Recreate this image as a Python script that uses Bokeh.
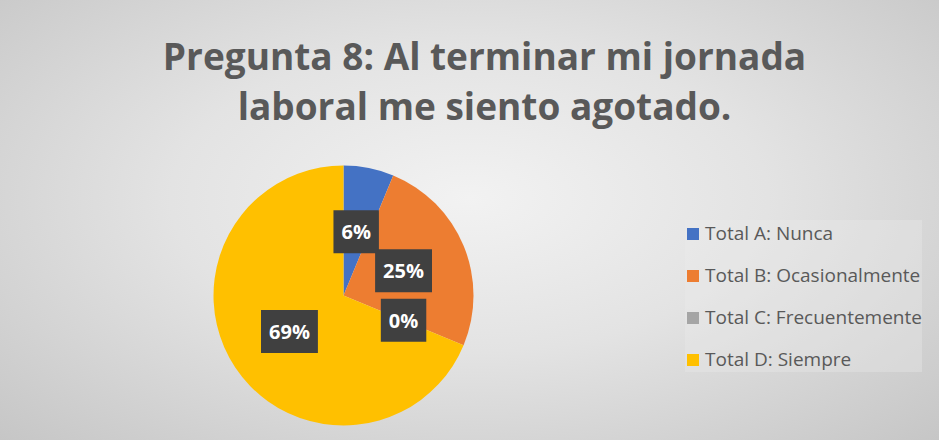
import numpy as np
from bokeh.plotting import figure
from bokeh.models import Range1d, ColumnDataSource, Legend, LegendItem
from bokeh.core.properties import value
from bokeh.embed import file_html
from bokeh.resources import INLINE

# ---- data ----
categories = ["Total A: Nunca", "Total B: Ocasionalmente", "Total C: Frecuentemente", "Total D: Siempre"]
counts = [1, 4, 0, 11]
colors = ["#4472C4", "#ED7D31", "#A5A5A5", "#FFC000"]
title_lines = ["Pregunta 8: Al terminar mi jornada", "laboral me siento agotado."]

# ---- layout (data units == screen pixels) ----
W, H = 939, 440
cx, cy, R = 343, 153, 130
FONT = "Open Sans"

vals = np.array(counts, dtype=float)
frac = vals / vals.sum()
cum_end = np.cumsum(frac)
cum_start = cum_end - frac
start = np.pi / 2 - cum_start * 2 * np.pi
end = np.pi / 2 - cum_end * 2 * np.pi
mid = (start + end) / 2
pct = [f"{int(round(f * 100))}%" for f in frac]

p = figure(width=W, height=H, x_range=Range1d(0, W), y_range=Range1d(8, 8 + H),
           output_backend="svg", toolbar_location=None, min_border=0)
p.axis.visible = False
p.grid.visible = False
p.outline_line_color = None
p.background_fill_alpha = 0
p.border_fill_alpha = 0
p.styles = {"background": "radial-gradient(ellipse farthest-corner at 50% 45%, #f2f2f2 0%, #e3e3e3 45%, #c6c6c6 100%)"}

items = []
for i, c in enumerate(categories):
    s = ColumnDataSource(dict(start=[start[i]], end=[end[i]], color=[colors[i]]))
    r = p.wedge(x=cx, y=cy, radius=R, start_angle="start", end_angle="end", direction="clock",
                fill_color="color", line_color=None, source=s)
    if frac[i] == 0:
        r.visible = False
    items.append(LegendItem(label=c, renderers=[r]))

lsrc = ColumnDataSource(dict(lx=cx + 0.5 * R * np.cos(mid), ly=cy + 0.5 * R * np.sin(mid), pct=pct))
p.text(x="lx", y="ly", text="pct", source=lsrc, text_align="center", text_baseline="middle",
       text_color="white", text_font=value(FONT), text_font_style="bold", text_font_size="20px",
       background_fill_color="#404040", padding=8)

tsrc = ColumnDataSource(dict(x=[484, 484], y=[448 - 55, 448 - 105], t=title_lines))
p.text(x="x", y="y", text="t", source=tsrc, text_align="center", text_baseline="middle",
       text_color="#595959", text_font=value(FONT), text_font_style="bold", text_font_size="37px")

legend = Legend(items=items, location=(685, 68), glyph_width=15, glyph_height=15, label_standoff=5,
                label_text_font=FONT, label_text_font_size="19px", label_text_color="#595959",
                label_height=22, spacing=16, padding=11,
                background_fill_color="#ebebeb", background_fill_alpha=0.35, border_line_color=None)
p.add_layout(legend)

open("out.html", "w").write(file_html(p, INLINE))
